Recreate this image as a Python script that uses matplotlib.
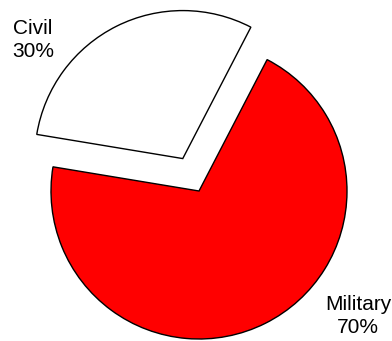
import matplotlib
matplotlib.use("Agg")
import matplotlib.pyplot as plt

categories = ["Civil", "Military"]
values = [30, 70]
colors = ["#FFFFFF", "#FF0000"]
explode = [0.245, 0.0]

plt.rcParams['font.family'] = ['Liberation Sans', 'DejaVu Sans']

W, H = 392, 341
fig = plt.figure(figsize=(W / 100, H / 100), dpi=100)
ax = fig.add_axes([0, 0, 1, 1])
ax.axis('off')

cx, cy, r = 199, 191, 148  # pixel center and radius

wedges, _ = ax.pie(values, colors=colors, explode=explode, startangle=62.6,
                   counterclock=True, radius=1,
                   wedgeprops=dict(edgecolor='black', linewidth=1.0))
ax.set_xlim(-cx / r, (W - cx) / r)
ax.set_ylim(-(H - cy) / r, cy / r)
ax.set_aspect('equal')

label_pos = [(33, 40), (358, 316)]
for cat, val, (px, py) in zip(categories, values, label_pos):
    ax.text(px / W, 1 - py / H, f"{cat}\n{val}%", transform=fig.transFigure,
            ha='center', va='center', fontsize=15, linespacing=1.3)

fig.savefig("out.png", dpi=100)
